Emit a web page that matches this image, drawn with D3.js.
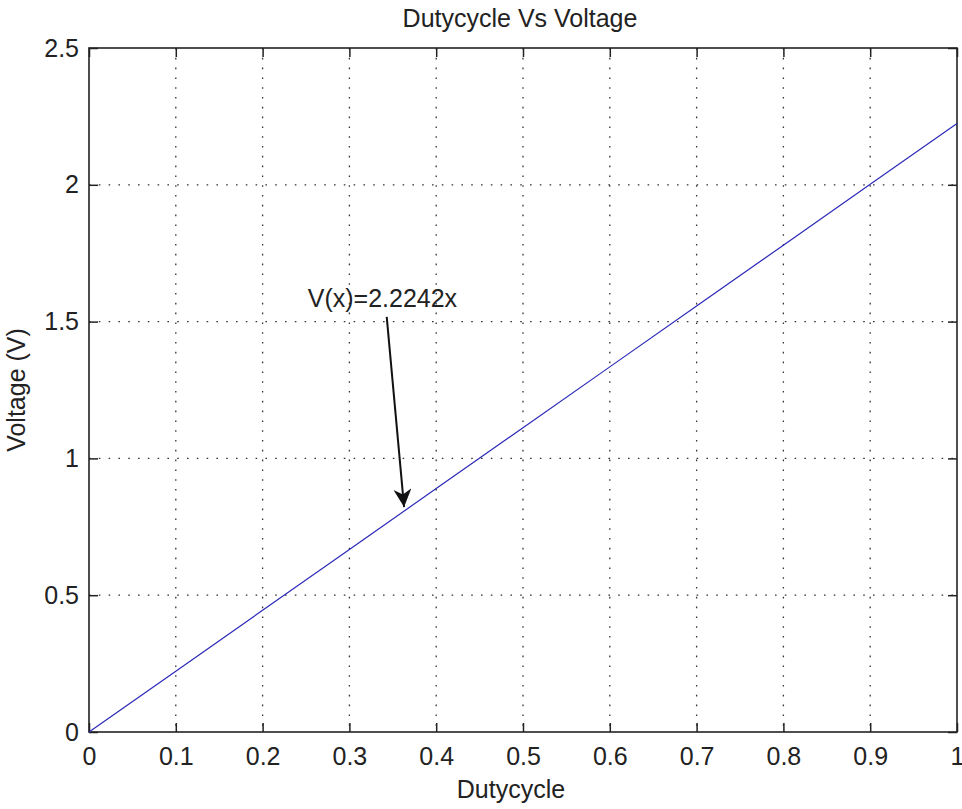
<!DOCTYPE html>
<html>
<head>
<meta charset="utf-8">
<script src="https://cdn.jsdelivr.net/npm/d3@7"></script>
<style>
  body { margin: 0; background: #fff; }
  text { font-family: "Liberation Sans", Arial, sans-serif; fill: #222; }
</style>
</head>
<body>
<svg id="chart"></svg>
<script>
// data
var dutycycle = [0, 0.1, 0.2, 0.3, 0.4, 0.5, 0.6, 0.7, 0.8, 0.9, 1];
var voltage = [0, 0.2224, 0.4448, 0.6673, 0.8897, 1.1121, 1.3345, 1.5569, 1.7794, 2.0018, 2.2242];
var xTicks = [0, 0.1, 0.2, 0.3, 0.4, 0.5, 0.6, 0.7, 0.8, 0.9, 1];
var yTicks = [0, 0.5, 1, 1.5, 2, 2.5];
var noteText = "V(x)=2.2242x";
var notePos = [0.252, 1.553];     // text start, data units
var arrowFrom = [0.343, 1.517];
var arrowTo = [0.363, 0.822];

var fontSize = "25px";

// set the dimensions and margins of the graph
var margin = {top: 48, right: 5, bottom: 77, left: 89},
    width = 962 - margin.left - margin.right,
    height = 809 - margin.top - margin.bottom;

var svg = d3.select("#chart")
    .attr("width", 962)
    .attr("height", 809);

var g = svg.append("g")
    .attr("transform", "translate(" + margin.left + "," + margin.top + ")");

var x = d3.scaleLinear().domain([0, 1]).range([0, width]);
var y = d3.scaleLinear().domain([0, 2.5]).range([height, 0]);

// dotted grid
g.selectAll(".vgrid")
    .data(xTicks.slice(1, -1)).enter()
  .append("line")
    .attr("x1", d => x(d)).attr("x2", d => x(d))
    .attr("y1", 0).attr("y2", height)
    .attr("stroke", "#333")
    .attr("stroke-width", 1.3)
    .attr("stroke-dasharray", "1.6,8.2");

g.selectAll(".hgrid")
    .data(yTicks.slice(1, -1)).enter()
  .append("line")
    .attr("y1", d => y(d)).attr("y2", d => y(d))
    .attr("x1", 0).attr("x2", width)
    .attr("stroke", "#333")
    .attr("stroke-width", 1.3)
    .attr("stroke-dasharray", "1.6,8.2");

// axes, ticks inside on all four sides
var tickLen = 9;
g.append("g")
    .attr("transform", "translate(0," + height + ")")
    .call(d3.axisBottom(x).tickValues(xTicks).tickSizeInner(-tickLen).tickSizeOuter(0)
      .tickPadding(tickLen + 6).tickFormat(d3.format("")))
    .call(a => a.selectAll("text").style("font-size", fontSize));

g.append("g")
    .call(d3.axisTop(x).tickValues(xTicks).tickSizeInner(-tickLen).tickSizeOuter(0).tickFormat(""));

g.append("g")
    .call(d3.axisLeft(y).tickValues(yTicks).tickSizeInner(-tickLen).tickSizeOuter(0)
      .tickPadding(tickLen + 1).tickFormat(d3.format("")))
    .call(a => a.selectAll("text").style("font-size", fontSize));

g.append("g")
    .attr("transform", "translate(" + width + ",0)")
    .call(d3.axisRight(y).tickValues(yTicks).tickSizeInner(-tickLen).tickSizeOuter(0).tickFormat(""));

g.selectAll(".domain").remove();
g.selectAll(".tick line").attr("stroke", "#222").attr("stroke-width", 1.5);
g.selectAll(".tick text").attr("fill", "#222").style("font-family", "'Liberation Sans', Arial, sans-serif");

// box
g.append("rect")
    .attr("width", width).attr("height", height)
    .attr("fill", "none")
    .attr("stroke", "#222")
    .attr("stroke-width", 1.6);

// the line
var valueline = d3.line()
    .x((d, i) => x(dutycycle[i]))
    .y(d => y(d));

g.append("path")
    .datum(voltage)
    .attr("fill", "none")
    .attr("stroke", "#2a2ab8")
    .attr("stroke-width", 1.2)
    .attr("d", valueline);

// annotation
svg.append("defs").append("marker")
    .attr("id", "head")
    .attr("viewBox", "0 0 10 10")
    .attr("refX", 10).attr("refY", 5)
    .attr("markerWidth", 22).attr("markerHeight", 18)
    .attr("markerUnits", "userSpaceOnUse")
    .attr("orient", "auto")
  .append("path")
    .attr("d", "M0,0 L10,5 L0,10 L3,5 Z")
    .attr("fill", "#111");

g.append("line")
    .attr("x1", x(arrowFrom[0])).attr("y1", y(arrowFrom[1]))
    .attr("x2", x(arrowTo[0])).attr("y2", y(arrowTo[1]))
    .attr("stroke", "#111")
    .attr("stroke-width", 2)
    .attr("marker-end", "url(#head)");

g.append("text")
    .attr("x", x(notePos[0])).attr("y", y(notePos[1]))
    .style("font-size", fontSize)
    .text(noteText);

// title and axis labels
svg.append("text")
    .attr("x", margin.left + width / 2 - 3).attr("y", 27)
    .attr("text-anchor", "middle")
    .style("font-size", fontSize)
    .text("Dutycycle Vs Voltage");

svg.append("text")
    .attr("x", margin.left + width / 2 - 12).attr("y", 798)
    .attr("text-anchor", "middle")
    .style("font-size", fontSize)
    .text("Dutycycle");

svg.append("text")
    .attr("transform", "translate(25," + (margin.top + height / 2) + ") rotate(-90)")
    .attr("text-anchor", "middle")
    .style("font-size", fontSize)
    .text("Voltage (V)");
</script>
</body>
</html>
